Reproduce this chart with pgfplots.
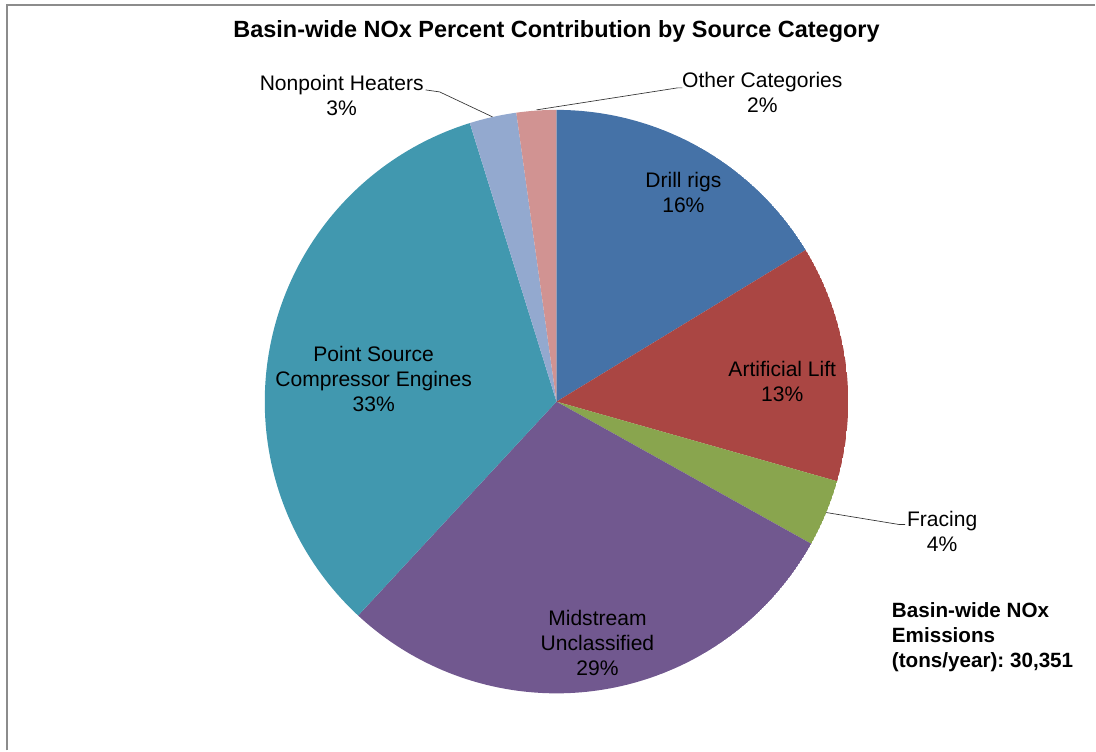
\documentclass[border=0pt]{standalone}
\usepackage{pgfplots}
\pgfplotsset{compat=1.18}
\usepgfplotslibrary{polar}
\usepackage{fontspec}
\setmainfont{Liberation Sans}
\frenchspacing
\definecolor{cDrill}{HTML}{4572A7}
\definecolor{cLift}{HTML}{AA4643}
\definecolor{cFrac}{HTML}{89A54E}
\definecolor{cMid}{HTML}{71588F}
\definecolor{cPoint}{HTML}{4198AF}
\definecolor{cHeat}{HTML}{93A9CF}
\definecolor{cOther}{HTML}{D19392}
\begin{document}
\begin{tikzpicture}
\begin{scope}[x=0.75pt,y=-0.75pt,shift={(0pt,563.25pt)}]
\path (0,0) rectangle (1096,751);
\draw[color=black!45, line width=1.5pt] (7,751) -- (7,5) -- (1096,5);
\node[font=\fontsize{17.6pt}{20pt}\selectfont\bfseries] at (557,32) {Basin-wide NOx Percent Contribution by Source Category};
\end{scope}
% Slice shares (percent): Drill rigs 16.3, Artificial Lift 13.1, Fracing 3.7,
% Midstream 28.8, Point Source 33.3, Nonpoint Heaters 2.6, Other 2.2
% start angle 90, clockwise: angle = 90 - 3.6*cumulative
\begin{polaraxis}[at={(417.75pt,261.75pt)}, anchor=center, hide axis,
  scale only axis, width=438pt, height=438pt, ymin=0, ymax=1]
\addplot[fill=cDrill, draw=none, domain=90:31.32, samples=60] {1} -- (axis cs:0,0) -- cycle;
\addplot[fill=cLift, draw=none, domain=31.32:-15.84, samples=60] {1} -- (axis cs:0,0) -- cycle;
\addplot[fill=cFrac, draw=none, domain=-15.84:-29.16, samples=30] {1} -- (axis cs:0,0) -- cycle;
\addplot[fill=cMid, draw=none, domain=-29.16:-132.84, samples=90] {1} -- (axis cs:0,0) -- cycle;
\addplot[fill=cPoint, draw=none, domain=-132.84:-252.72, samples=100] {1} -- (axis cs:0,0) -- cycle;
\addplot[fill=cHeat, draw=none, domain=-252.72:-262.08, samples=20] {1} -- (axis cs:0,0) -- cycle;
\addplot[fill=cOther, draw=none, domain=-262.08:-270, samples=20] {1} -- (axis cs:0,0) -- cycle;
\end{polaraxis}
\begin{scope}[x=0.75pt,y=-0.75pt,shift={(0pt,563.25pt)},
  every node/.style={font=\fontsize{15.8pt}{18.75pt}\selectfont, align=center}]
\draw[black!80, line width=0.5pt] (426,90) -- (440,92) -- (493,117);
\draw[black!80, line width=0.5pt] (537,110) -- (678,88) -- (683,88);
\draw[black!80, line width=0.5pt] (827,513) -- (900,525) -- (906,525);
\node at (342,96) {Nonpoint Heaters\\3\%};
\node at (763,93) {Other Categories\\2\%};
\node at (684,193) {Drill rigs\\16\%};
\node at (783,382) {Artificial Lift\\13\%};
\node at (943,532) {Fracing\\4\%};
\node at (374,379) {Point Source\\Compressor Engines\\33\%};
\node at (598,644) {Midstream\\Unclassified\\29\%};
\node[anchor=west, align=left, font=\fontsize{15.5pt}{18.75pt}\selectfont\bfseries] at (888,638) {Basin-wide NOx\\Emissions\\(tons/year): 30,351};
\end{scope}
\end{tikzpicture}
\end{document}
